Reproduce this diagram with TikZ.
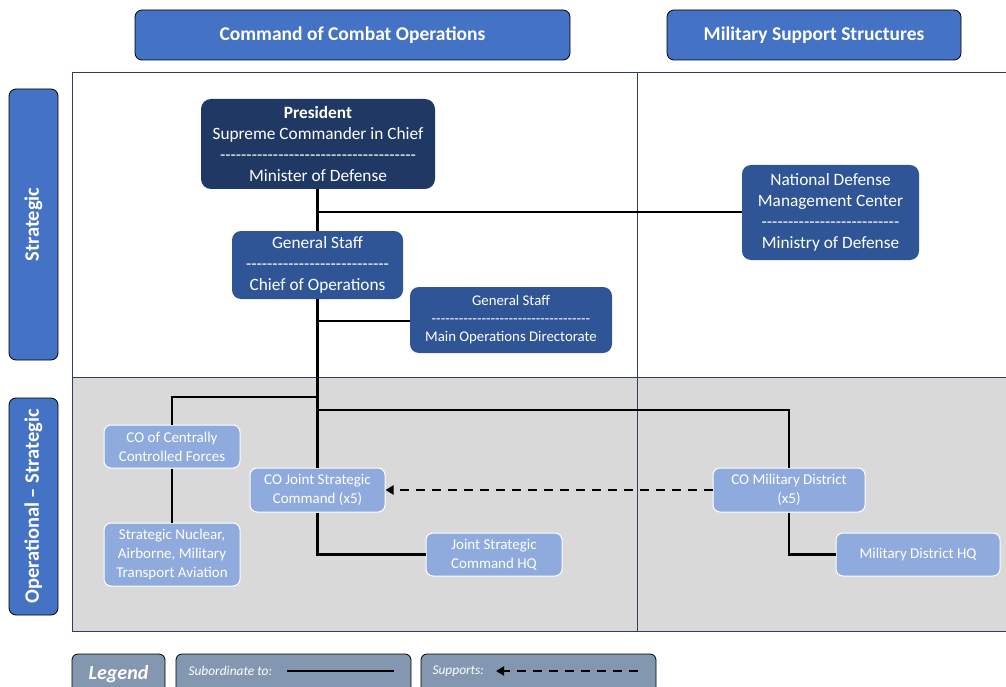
\documentclass[tikz,border=0pt]{standalone}
\usepackage{fontspec}
\setmainfont{Carlito}[Ligatures=TeXOff]
\usetikzlibrary{arrows.meta}
\definecolor{hdr}{HTML}{4472C4}
\definecolor{navy}{HTML}{1F3864}
\definecolor{mid}{HTML}{2F5597}
\definecolor{light}{HTML}{8FAADC}
\definecolor{greybg}{HTML}{D9D9D9}
\definecolor{leg}{HTML}{8497B0}
\definecolor{gridc}{HTML}{2E3E5C}
\tikzset{
  hdrbox/.style={draw=black, line width=0.8pt, fill=hdr, rounded corners=7pt, text=white, font=\fontsize{19.5}{22}\selectfont\bfseries, inner sep=0pt},
  sidebox/.style={draw=black, line width=0.8pt, fill=hdr, rounded corners=7pt, inner sep=0pt},
  sidetext/.style={rotate=90, text=white, font=\fontsize{20.5}{22}\selectfont\bfseries},
  darkbox/.style={fill=navy, rounded corners=10pt, text=white, align=center, font=\fontsize{17.3}{21}\selectfont, inner sep=0pt},
  midbox/.style={fill=mid, rounded corners=9pt, text=white, align=center, font=\fontsize{17.3}{21}\selectfont, inner sep=0pt},
  smallmid/.style={fill=mid, rounded corners=9pt, text=white, align=center, font=\fontsize{14.8}{18}\selectfont, inner sep=0pt},
  lightbox/.style={fill=light, draw=white, line width=1pt, rounded corners=7pt, text=white, align=center, font=\fontsize{15}{18.7}\selectfont, inner sep=0pt},
  legbox/.style={fill=leg, draw=black, line width=0.8pt, rounded corners=6pt, text=white, inner sep=0pt},
  legtext/.style={text=white, font=\fontsize{13.4}{15}\selectfont\itshape, anchor=west},
  conn/.style={line width=2.4pt, black},
  supp/.style={line width=2.4pt, black, dash pattern=on 9pt off 7pt, -{Triangle[length=8pt,width=9pt]}},
}
\begin{document}
\begin{tikzpicture}[x=1pt,y=-1pt]
\useasboundingbox (0,0) rectangle (1006,687);
% grid
\fill[greybg] (72,377) rectangle (1006,631);
\draw[gridc, line width=0.9pt] (72,72) rectangle (1010,631);
\draw[gridc, line width=0.9pt] (72,377) -- (1010,377);
\draw[gridc, line width=0.9pt] (637,72) -- (637,631);
% headers
\node[hdrbox, minimum width=435pt, minimum height=50pt] (h1) at (352.5,35) {Command of Combat Operations};
\node[hdrbox, minimum width=294pt, minimum height=50pt] (h2) at (814,35) {Military Support Structures};
\node[sidebox, minimum width=49pt, minimum height=271pt] (s1) at (33.5,224.5) {};
\node[sidetext] (s1t) at (s1.center) {Strategic};
\node[sidebox, minimum width=49pt, minimum height=217pt] (s2) at (33.5,506.5) {};
\node[sidetext] (s2t) at (s2.center) {Operational – Strategic};
% boxes
\node[darkbox, minimum width=234pt, minimum height=90pt] (pres) at (318,144) {\textbf{President}\\Supreme Commander in Chief\\-------------------------------------\\Minister of Defense};
\node[midbox, minimum width=171pt, minimum height=68pt] (gs) at (317.5,265) {General Staff\\---------------------------\\Chief of Operations};
\node[smallmid, minimum width=202pt, minimum height=66pt] (mod) at (511,320) {General Staff\\-----------------------------------\\Main Operations Directorate};
\node[midbox, minimum width=177pt, minimum height=95pt] (ndmc) at (830.5,212.5) {National Defense\\Management Center\\--------------------------\\Ministry of Defense};
\node[lightbox, minimum width=136pt, minimum height=43pt] (cocf) at (172,446.5) {CO of Centrally\\Controlled Forces};
\node[lightbox, minimum width=136pt, minimum height=63pt] (snuc) at (172,554.5) {Strategic Nuclear,\\Airborne, Military\\Transport Aviation};
\node[lightbox, minimum width=135pt, minimum height=44pt] (cojs) at (317.5,490) {CO Joint Strategic\\Command (x5)};
\node[lightbox, minimum width=136pt, minimum height=43pt] (jshq) at (494,554.5) {Joint Strategic\\Command HQ};
\node[lightbox, minimum width=152pt, minimum height=44pt] (comd) at (789,490) {CO Military District\\(x5)};
\node[lightbox, minimum width=164pt, minimum height=43pt] (mdhq) at (918,554.5) {Military District HQ};
% connectors
\draw[conn] (pres.south -| gs.north) -- (gs.north);
\coordinate (j1) at (317.5,212);
\draw[conn] (j1) -- (ndmc.west |- j1);
\draw[conn] (gs.south) -- (cojs.north);
\coordinate (j2) at (317.5,321);
\draw[conn] (j2) -- (mod.west |- j2);
\coordinate (j3) at (317.5,397);
\draw[conn] (j3) -- (172,397) -- (cocf.north);
\coordinate (j4) at (317.5,410);
\draw[conn] (j4) -- (comd.north |- j4) -- (comd.north);
\draw[conn] (cocf.south) -- (snuc.north);
\draw[conn] (cojs.south) |- (jshq.west);
\draw[conn] (comd.south) |- (mdhq.west);
\draw[supp] (comd.west) -- (cojs.east);
% legend
\node[legbox, minimum width=93pt, minimum height=40pt, font=\fontsize{20}{22}\selectfont\bfseries\itshape] (lg) at (118.5,674) {Legend};
\node[legbox, minimum width=235pt, minimum height=40pt] (lsub) at (293.5,674) {};
\node[legtext] (lsubt) at (185,671) {Subordinate to:};
\coordinate (la1) at (287,671);
\coordinate (la2) at (394,671);
\draw[conn] (la1) -- (la2);
\node[legbox, minimum width=235pt, minimum height=40pt] (lsup) at (538.5,674) {};
\node[legtext] (lsupt) at (429,671) {Supports:};
\coordinate (lb1) at (638,671);
\coordinate (lb2) at (496,671);
\draw[supp, line width=2.2pt] (lb1) -- (lb2);
\end{tikzpicture}
\end{document}
